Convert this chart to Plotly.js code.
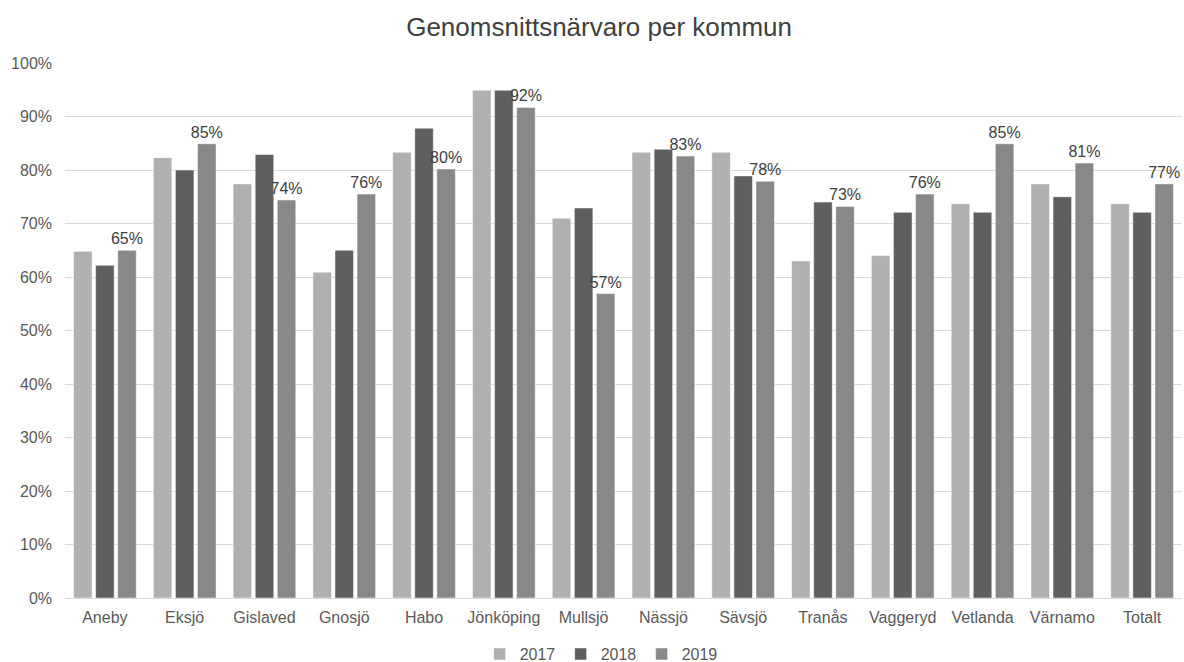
<!DOCTYPE html>
<html>
<head>
<meta charset="utf-8">
<script src="https://cdn.plot.ly/plotly-3.0.1.min.js"></script>
<style>html,body{margin:0;padding:0;background:#fff;}#chart{width:1184px;height:662px;}</style>
</head>
<body>
<div id="chart"></div>
<script>
const categories = ["Aneby","Eksjö","Gislaved","Gnosjö","Habo","Jönköping","Mullsjö","Nässjö","Sävsjö","Tranås","Vaggeryd","Vetlanda","Värnamo","Totalt"];
const values2017 = [0.648,0.823,0.774,0.609,0.833,0.949,0.710,0.833,0.833,0.630,0.640,0.737,0.774,0.737];
const values2018 = [0.622,0.800,0.829,0.650,0.878,0.949,0.729,0.839,0.789,0.740,0.721,0.721,0.750,0.721];
const values2019 = [0.650,0.849,0.744,0.755,0.802,0.917,0.569,0.826,0.779,0.732,0.755,0.849,0.813,0.774];
const seriesNames = ["2017","2018","2019"];

const fontFam = '"Liberation Sans", Arial, sans-serif';
const traces = [
  {name: seriesNames[0], y: values2017, color: '#b0b0b0', labels: false},
  {name: seriesNames[1], y: values2018, color: '#5f5f5f', labels: false},
  {name: seriesNames[2], y: values2019, color: '#888888', labels: true}
].map(s => ({
  type: 'bar',
  name: s.name,
  x: categories,
  y: s.y,
  marker: {color: s.color, line: {color: '#ffffff', width: 0.5}},
  texttemplate: s.labels ? '%{y:.0%}' : '',
  textposition: s.labels ? 'outside' : 'none',
  constraintext: 'none',
  cliponaxis: false,
  textfont: {family: fontFam, size: 16, color: '#404040'},
  hoverinfo: 'x+y'
}));

const layout = {
  width: 1184, height: 662,
  margin: {l: 65, r: 2, t: 63, b: 64, autoexpand: false},
  paper_bgcolor: '#ffffff', plot_bgcolor: '#ffffff',
  title: {text: 'Genomsnittsnärvaro per kommun', font: {family: fontFam, size: 26, color: '#404040'}, x: 0.506, xanchor: 'center', y: 0.96, yanchor: 'middle'},
  barmode: 'group',
  bargap: 0.17,
  bargroupgap: 0.16,
  font: {family: fontFam, color: '#595959'},
  xaxis: {
    type: 'category',
    showline: true, linecolor: '#d9d9d9', linewidth: 1,
    ticks: '', tickfont: {family: fontFam, size: 16, color: '#595959'},
    ticklabelstandoff: 5,
    showgrid: false
  },
  yaxis: {
    range: [0, 1], tickvals: [0,0.1,0.2,0.3,0.4,0.5,0.6,0.7,0.8,0.9,1.0],
    tickformat: '.0%', showgrid: true, gridcolor: '#d9d9d9', gridwidth: 1,
    zeroline: false, showline: false, ticks: '', ticklen: 0,
    tickfont: {family: fontFam, size: 16, color: '#595959'},
    ticklabelstandoff: 12
  },
  showlegend: true,
  legend: {orientation: 'h', x: 0.48, xanchor: 'center', yref: 'container', y: 0.012, yanchor: 'middle',
    font: {family: fontFam, size: 16, color: '#595959'}, itemwidth: 30,
    entrywidth: 36, entrywidthmode: 'pixels', tracegroupgap: 0}
};

Plotly.newPlot('chart', traces, layout, {displayModeBar: false, staticPlot: true});
</script>
</body>
</html>
